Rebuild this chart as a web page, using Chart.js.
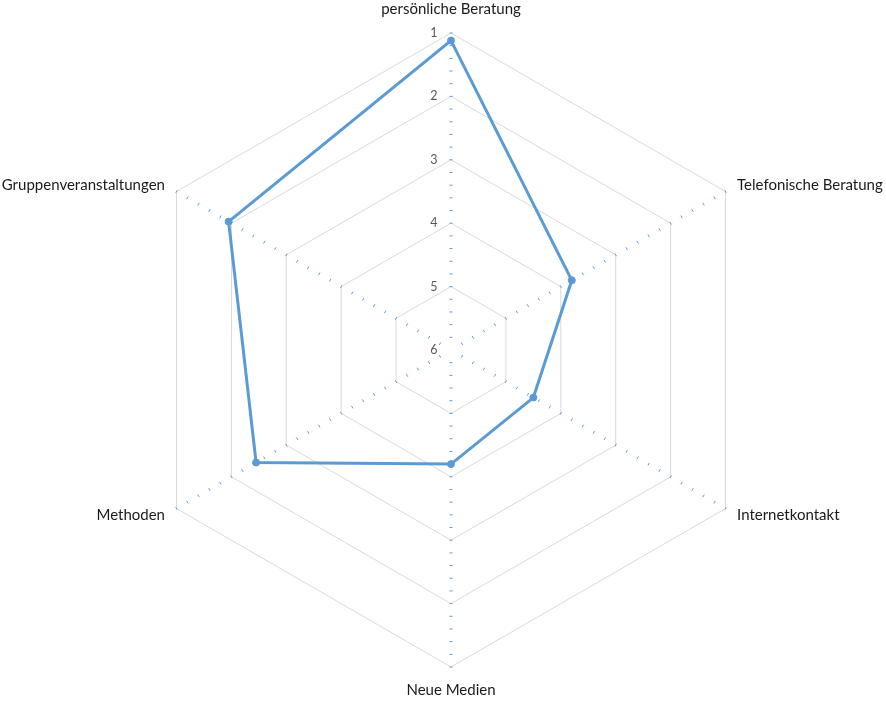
<!DOCTYPE html>
<html>
<head>
<meta charset="utf-8">
<script src="https://cdn.jsdelivr.net/npm/chart.js@4/dist/chart.umd.min.js"></script>
<style>
  html, body { margin: 0; padding: 0; background: #ffffff; }
  #wrap { width: 886px; height: 705px; }
</style>
</head>
<body>
<div id="wrap"><canvas id="c" width="886" height="705"></canvas></div>
<script>
const categories = ['persönliche Beratung', 'Telefonische Beratung', 'Internetkontakt', 'Neue Medien', 'Methoden', 'Gruppenveranstaltungen'];
const seriesValues = [1.12, 3.8, 4.5, 4.2, 2.45, 1.95];
const tickLabels = ['1', '2', '3', '4', '5', '6'];
const scaleMin = 1;
const scaleMax = 6;
const minorPerUnit = 5;

const FONT = 'Lato, "Noto Sans", sans-serif';

const decorPlugin = {
  id: 'decor',
  beforeDatasetsDraw(chart) {
    const s = chart.scales.r;
    const ctx = chart.ctx;
    const n = chart.data.labels.length;
    ctx.save();
    ctx.strokeStyle = '#5B9BD5';
    ctx.lineWidth = 1;
    for (let i = 0; i < n; i++) {
      for (let k = 0; k < (scaleMax - scaleMin) * minorPerUnit; k++) {
        const v = scaleMin + k / minorPerUnit;
        const p = s.getPointPosition(i, s.getDistanceFromCenterForValue(v));
        const px = -Math.sin(p.angle), py = Math.cos(p.angle);
        ctx.beginPath();
        ctx.moveTo(p.x - px * 1.5, p.y - py * 1.5);
        ctx.lineTo(p.x + px * 1.5, p.y + py * 1.5);
        ctx.stroke();
      }
    }
    ctx.restore();
  },
  afterDraw(chart) {
    const s = chart.scales.r;
    const ctx = chart.ctx;
    ctx.save();
    // point labels
    ctx.fillStyle = '#1a1a1a';
    ctx.font = '15px ' + FONT;
    ctx.textBaseline = 'middle';
    chart.data.labels.forEach((lab, i) => {
      const a = s.getPointPosition(i, s.drawingArea);
      const c = Math.cos(a.angle);
      const extra = Math.abs(c) < 0.01 ? 23.5 : 13.3;
      const p = s.getPointPosition(i, s.drawingArea + extra);
      ctx.textAlign = Math.abs(c) < 0.01 ? 'center' : (c > 0 ? 'left' : 'right');
      ctx.fillText(lab, p.x, p.y);
    });
    // tick labels
    ctx.fillStyle = '#595959';
    ctx.font = '12.5px ' + FONT;
    ctx.textAlign = 'right';
    ctx.textBaseline = 'middle';
    tickLabels.forEach(t => {
      const d = s.getDistanceFromCenterForValue(Number(t));
      ctx.fillText(t, s.xCenter - 13.5, s.yCenter - d);
    });
    ctx.restore();
  }
};

new Chart(document.getElementById('c'), {
  type: 'radar',
  data: {
    labels: categories,
    datasets: [{
      data: seriesValues,
      borderColor: '#5B9BD5',
      backgroundColor: '#5B9BD5',
      pointBackgroundColor: '#5B9BD5',
      pointBorderColor: '#5B9BD5',
      borderWidth: 3,
      pointRadius: 3.5,
      pointBorderWidth: 1,
      fill: false,
      tension: 0
    }]
  },
  options: {
    responsive: false,
    devicePixelRatio: 1,
    animation: false,
    layout: { padding: { left: 16, right: 0, top: 33, bottom: 38 } },
    plugins: { legend: { display: false }, tooltip: { enabled: false } },
    scales: {
      r: {
        min: scaleMin,
        max: scaleMax,
        reverse: true,
        ticks: { display: false, stepSize: 1 },
        afterBuildTicks(scale) {
          scale.ticks = [{ value: scale.min }].concat(scale.ticks);
        },
        angleLines: { display: false },
        pointLabels: { display: false },
        grid: { color: '#D9D9D9', lineWidth: 1 }
      }
    }
  },
  plugins: [decorPlugin]
});
</script>
</body>
</html>
